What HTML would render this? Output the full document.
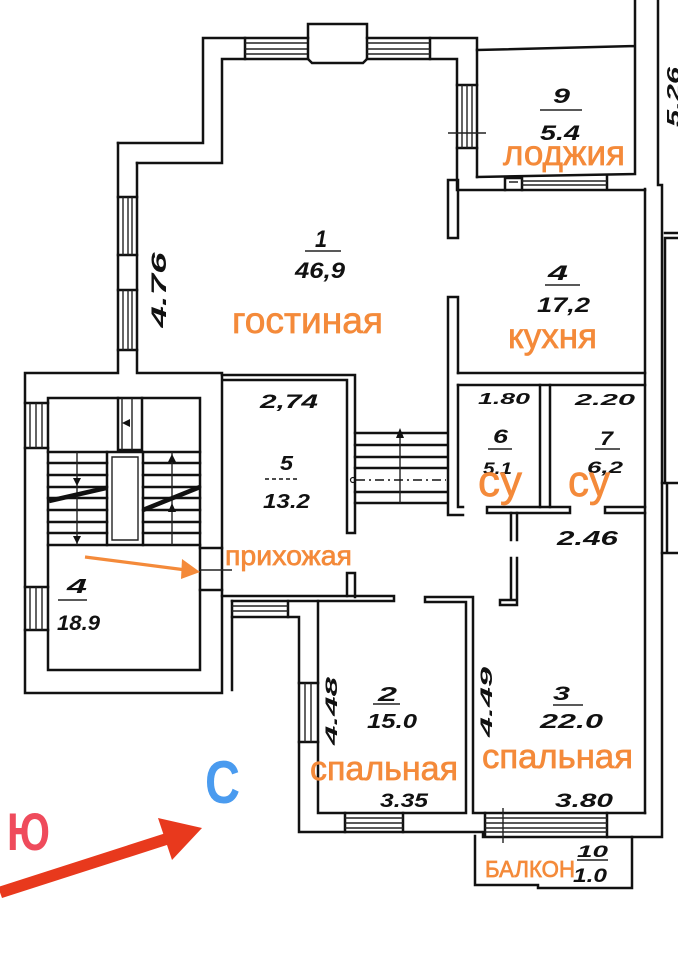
<!DOCTYPE html>
<html><head><meta charset="utf-8">
<style>
html,body{margin:0;padding:0;background:#fff;}
svg{display:block}
.w{fill:none;stroke:#111;stroke-width:2.5;stroke-linecap:square;stroke-linejoin:miter}
.t{fill:none;stroke:#222;stroke-width:1.4}
.n{font-family:"Liberation Sans",sans-serif;font-style:italic;font-weight:bold;fill:#111}
.o{font-family:"Liberation Sans","Noto Sans CJK SC",sans-serif;fill:#F48A3A;stroke:#F48A3A;stroke-width:0.7}
</style></head><body>
<svg width="678" height="960" viewBox="0 0 678 960" xmlns="http://www.w3.org/2000/svg">
<rect width="678" height="960" fill="#fff"/>

<!-- Living room & stairwell envelope -->
<path class="w" d="M118,143 V373 H25 V693 H222 V373 H137 V163"/>
<path class="w" d="M118,143 H203 V38 H245"/>
<path class="w" d="M137,163 H222 V59 H245"/>
<!-- top windows -->
<path class="w" d="M245,38 V59 M245,38 H308 M245,59 H308"/>
<path class="t" d="M245,43 H308 M245,49 H308 M245,54 H308"/>
<path class="w" d="M308,59 V24 H367 V59 L363,63 H312 Z"/>
<path class="w" d="M367,38 H430 M367,59 H430 M430,38 V59"/>
<path class="t" d="M367,43 H430 M367,49 H430 M367,54 H430"/>
<path class="w" d="M430,38 H477 V177"/>
<path class="w" d="M430,59 H457 V190 H645"/>
<!-- right wall window -->
<path class="w" d="M457,85 H477 M457,148 H477"/>
<path class="t" d="M462,85 V148 M467,85 V148 M472,85 V148 M448,133 H486"/>
<!-- left wall windows -->
<path class="w" d="M118,197 H137 M118,255 H137 M118,290 H137 M118,350 H137"/>
<path class="t" d="M123,197 V255 M128,197 V255 M132,197 V255 M123,290 V350 M128,290 V350 M132,290 V350"/>

<!-- Loggia -->
<path class="w" d="M477,50 L635,46 M635,0 V174 M477,177 L635,174"/>
<path class="w" d="M505,177 V190 M607,175 V189 M505,178 H522 V190"/>
<path class="t" d="M522,181 H607 M522,185 H607 M509,182 H518"/>

<!-- Right building wall -->
<path class="w" d="M658,0 V185 H662 V837 H483 V832 H299 V617 H232 V690"/>
<path class="w" d="M662,483 H678 M667,483 V553 M662,553 H678"/>
<path class="w" d="M665,233 H678 M665,238 H678 M665,238 V483"/>

<!-- Kitchen -->
<path class="w" d="M645,189 V813"/>
<path class="w" d="M448,180 H458 V238 H448 Z"/>
<path class="w" d="M458,373 V297 H448 V515 H463 M458,385 V507 H463"/>
<path class="w" d="M458,373 H645 M458,385 H645"/>
<!-- WCs -->
<path class="w" d="M540,385 V507 M550,385 V507"/>
<path class="w" d="M487,507 H570 V513 H487 Z M605,507 H645 M605,513 H645 M605,507 V513"/>
<path class="w" d="M511,513 V540 M517,513 V540 M511,558 V600 M517,558 V600 M500,600 H517 V605 H500 Z"/>

<!-- Room 5 -->
<path class="w" d="M222,375 H355 V533 H347 V380 H223"/>
<path class="w" d="M347,573 H355 V597 M347,573 V596"/>
<path class="w" d="M222,596 H394 V601 H232"/>
<path class="w" d="M232,601 V617 M288,601 V617"/>
<path class="t" d="M232,606 H288 M232,611 H288"/>

<!-- inner stairs -->
<path class="w" d="M355,433 H447 M355,445 H447 M355,457 H447 M355,468 H447 M355,492 H447 M355,503 H447"/>
<path class="t" d="M400,436 V503"/>
<path d="M400,428 L396,438 L404,438 Z" fill="#111"/>
<path d="M356,480 H446" stroke="#111" stroke-width="1.6" stroke-dasharray="9,4,2,4" fill="none"/>
<circle cx="353" cy="480" r="2.5" fill="none" stroke="#111" stroke-width="1.2"/>

<!-- Bedrooms -->
<path class="w" d="M318,601 V813 H466 V602 H425 V597 H473 V813 H645"/>
<path class="w" d="M345,813 V832 M403,813 V832"/>
<path class="t" d="M345,818 H403 M345,823 H403 M345,828 H403"/>
<path class="w" d="M485,813 V836 M607,813 V837"/>
<path class="t" d="M485,818 H607 M485,823 H607 M485,828 H607 M485,832 H607"/>
<path class="w" d="M299,683 H318 M299,742 H318"/>
<path class="t" d="M305,683 V742 M311,683 V742"/>
<!-- balcony -->
<path class="w" d="M475,836 V885 H538 V888 H632 V837"/>
<path class="t" d="M503,808 V843"/>

<!-- Stairwell internals -->
<path class="w" d="M48,398 H200 V670 H48 Z"/>
<path class="w" d="M25,403 H48 M25,448 H48 M25,587 H48 M25,630 H48"/>
<path class="t" d="M30,403 V448 M36,403 V448 M42,403 V448 M30,587 V630 M36,587 V630 M42,587 V630"/>
<path class="w" d="M200,548 H222 M200,590 H222"/>
<path class="t" d="M200,570 H232"/>
<path class="w" d="M118,398 V450 H142 V398"/>
<path class="t" d="M122,398 V450 M132,398 V450"/>
<path d="M122,423 L130,419 L130,427 Z" fill="#111"/>
<path class="w" d="M107,452 H143 V545 H107 Z"/>
<path class="t" d="M112,457 H138 V540 H112 Z"/>
<path class="w" d="M48,452 H107 M48,463 H107 M48,475 H107 M48,487 H107 M48,498 H107 M48,510 H107 M48,522 H107 M48,533 H107 M48,545 H107"/>
<path class="w" d="M143,452 H200 M143,463 H200 M143,475 H200 M143,487 H200 M143,498 H200 M143,510 H200 M143,522 H200 M143,533 H200 M143,545 H200"/>
<path class="t" d="M77,452 V545 M172,452 V545"/>
<path d="M73,478 L81,478 L77,486 Z M73,536 L81,536 L77,544 Z M168,462 L176,462 L172,454 Z M168,512 L176,512 L172,503 Z" fill="#111"/>
<path d="M49,501 L106,488 M143,510 L200,487" stroke="#111" stroke-width="4.5" fill="none"/>

<!-- Black labels -->
<text class="n" x="315" y="247" font-size="24" textLength="12" lengthAdjust="spacingAndGlyphs">1</text>
<path class="t" d="M305,251 H341" stroke-width="1.8"/>
<text class="n" x="295" y="278" font-size="22" textLength="50" lengthAdjust="spacingAndGlyphs">46,9</text>

<text class="n" x="553" y="103" font-size="21" textLength="17" lengthAdjust="spacingAndGlyphs">9</text>
<path class="t" d="M540,110 H582" stroke-width="1.8"/>
<text class="n" x="540" y="140" font-size="21" textLength="40" lengthAdjust="spacingAndGlyphs">5.4</text>

<text class="n" x="548" y="280" font-size="21" textLength="20" lengthAdjust="spacingAndGlyphs">4</text>
<path class="t" d="M545,285 H580" stroke-width="1.8"/>
<text class="n" x="537" y="312" font-size="21" textLength="53" lengthAdjust="spacingAndGlyphs">17,2</text>

<text class="n" x="260" y="408" font-size="19" textLength="58" lengthAdjust="spacingAndGlyphs">2,74</text>
<text class="n" x="280" y="470" font-size="20" textLength="13" lengthAdjust="spacingAndGlyphs">5</text>
<path d="M265,479 H297" stroke="#111" stroke-width="1.5" stroke-dasharray="4,3" fill="none"/>
<text class="n" x="263" y="508" font-size="20" textLength="47" lengthAdjust="spacingAndGlyphs">13.2</text>

<text class="n" x="478" y="404" font-size="16" textLength="52" lengthAdjust="spacingAndGlyphs">1.80</text>
<text class="n" x="493" y="443" font-size="19" textLength="15" lengthAdjust="spacingAndGlyphs">6</text>
<path class="t" d="M488,449 H512" stroke-width="1.6"/>
<text class="n" x="483" y="474" font-size="17" textLength="29" lengthAdjust="spacingAndGlyphs">5.1</text>

<text class="n" x="575" y="405" font-size="16" textLength="60" lengthAdjust="spacingAndGlyphs">2.20</text>
<text class="n" x="600" y="445" font-size="19" textLength="13" lengthAdjust="spacingAndGlyphs">7</text>
<path class="t" d="M595,449 H620" stroke-width="1.6"/>
<text class="n" x="587" y="473" font-size="17" textLength="36" lengthAdjust="spacingAndGlyphs">6,2</text>

<text class="n" x="557" y="545" font-size="20" textLength="61" lengthAdjust="spacingAndGlyphs">2.46</text>

<text class="n" x="378" y="701" font-size="20" textLength="19" lengthAdjust="spacingAndGlyphs">2</text>
<path class="t" d="M373,704 H400" stroke-width="1.7"/>
<text class="n" x="367" y="728" font-size="20" textLength="50" lengthAdjust="spacingAndGlyphs">15.0</text>

<text class="n" x="553" y="700" font-size="19" textLength="17" lengthAdjust="spacingAndGlyphs">3</text>
<path class="t" d="M553,705 H583" stroke-width="1.7"/>
<text class="n" x="540" y="728" font-size="20" textLength="63" lengthAdjust="spacingAndGlyphs">22.0</text>

<text class="n" x="380" y="807" font-size="19" textLength="48" lengthAdjust="spacingAndGlyphs">3.35</text>
<text class="n" x="555" y="807" font-size="19" textLength="58" lengthAdjust="spacingAndGlyphs">3.80</text>

<text class="n" x="577" y="857" font-size="17" textLength="31" lengthAdjust="spacingAndGlyphs">10</text>
<path class="t" d="M577,860 H608" stroke-width="1.6"/>
<text class="n" x="573" y="882" font-size="19" textLength="34" lengthAdjust="spacingAndGlyphs">1.0</text>

<text class="n" x="67" y="593" font-size="20" textLength="20" lengthAdjust="spacingAndGlyphs">4</text>
<path class="t" d="M58,600 H87" stroke-width="1.7"/>
<text class="n" x="57" y="630" font-size="21" textLength="43" lengthAdjust="spacingAndGlyphs">18.9</text>

<text class="n" transform="translate(166,290) rotate(-90)" text-anchor="middle" font-size="21" textLength="75" lengthAdjust="spacingAndGlyphs">4.76</text>
<text class="n" transform="translate(337,711) rotate(-90)" text-anchor="middle" font-size="17" textLength="68" lengthAdjust="spacingAndGlyphs">4.48</text>
<text class="n" transform="translate(492,702) rotate(-90)" text-anchor="middle" font-size="17" textLength="70" lengthAdjust="spacingAndGlyphs">4.49</text>
<text class="n" transform="translate(680,97) rotate(-90)" text-anchor="middle" font-size="18" textLength="60" lengthAdjust="spacingAndGlyphs">5.26</text>

<!-- Orange room names -->
<text class="o" x="232" y="333" font-size="37" textLength="151" lengthAdjust="spacingAndGlyphs">гостиная</text>
<text class="o" x="503" y="165" font-size="35" textLength="122" lengthAdjust="spacingAndGlyphs">лоджия</text>
<text class="o" x="508" y="348" font-size="35" textLength="89" lengthAdjust="spacingAndGlyphs">кухня</text>
<text class="o" x="225" y="565" font-size="28" textLength="127" lengthAdjust="spacingAndGlyphs">прихожая</text>
<text class="o" x="478" y="496" font-size="44" textLength="44" lengthAdjust="spacingAndGlyphs">су</text>
<text class="o" x="568" y="496" font-size="44" textLength="42" lengthAdjust="spacingAndGlyphs">су</text>
<text class="o" x="310" y="780" font-size="34" textLength="148" lengthAdjust="spacingAndGlyphs">спальная</text>
<text class="o" x="482" y="768" font-size="34" textLength="151" lengthAdjust="spacingAndGlyphs">спальная</text>
<text class="o" x="485" y="877" font-size="23" textLength="90" lengthAdjust="spacingAndGlyphs" stroke-width="0.3">БАЛКОН</text>

<!-- orange arrow -->
<path d="M85,557 L186,570" stroke="#F48A3A" stroke-width="3.2" fill="none"/>
<path d="M200,572 L182,559 L181,579 Z" fill="#F48A3A"/>

<!-- compass -->
<text x="205" y="803" font-family="Liberation Sans, sans-serif" font-size="60" font-weight="bold" fill="#4A9BEF" textLength="35" lengthAdjust="spacingAndGlyphs">С</text>
<text x="7" y="850" font-family="Liberation Sans, sans-serif" font-size="53" font-weight="bold" fill="#EF4B5C" textLength="43" lengthAdjust="spacingAndGlyphs">Ю</text>
<path d="M-2,887 L166,833 L170,844 L2,898 Z" fill="#E8391D"/>
<path d="M202,828 L158,818 L172,860 Z" fill="#E8391D"/>
</svg>
</body></html>
